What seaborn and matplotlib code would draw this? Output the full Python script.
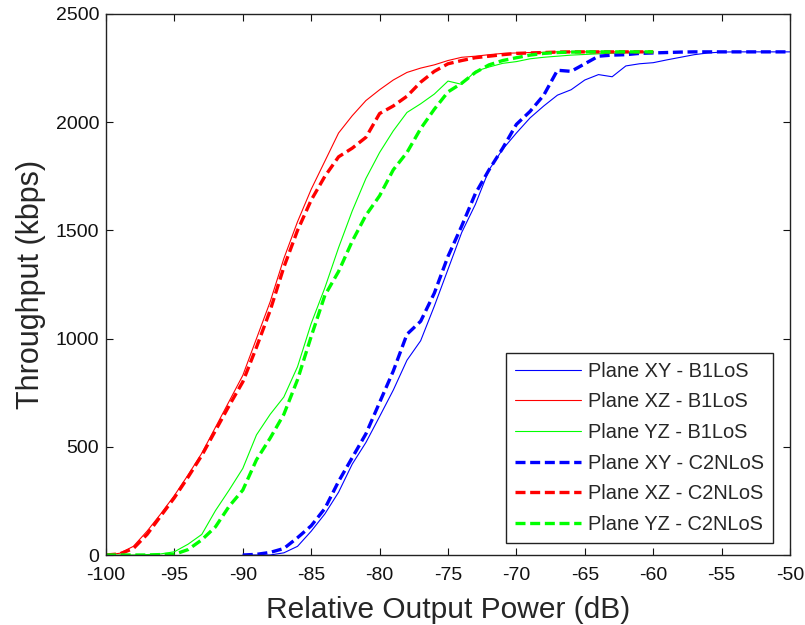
import numpy as np
import pandas as pd
import matplotlib
matplotlib.use("Agg")
import matplotlib.pyplot as plt
import seaborn as sns

# ---- data ----
x_rg = list(range(-100, -59))          # -100 .. -60 dB
x_b = list(range(-90, -49))            # -90 .. -50 dB

xz_b1 = [0, 8, 40, 110, 190, 275, 370, 470, 590, 710, 830, 1000, 1170, 1370, 1540,
         1690, 1820, 1950, 2030, 2100, 2150, 2195, 2230, 2250, 2265, 2285, 2300, 2305,
         2312, 2318, 2320, 2322, 2323, 2325, 2325, 2325, 2325, 2325, 2325, 2325, 2325]
xz_c2 = [0, 5, 30, 95, 180, 265, 360, 460, 575, 690, 800, 960, 1130, 1330, 1500,
         1640, 1750, 1840, 1880, 1930, 2040, 2075, 2120, 2185, 2235, 2270, 2285, 2298,
         2305, 2312, 2318, 2320, 2322, 2324, 2325, 2325, 2325, 2325, 2325, 2325, 2325]
yz_b1 = [0, 0, 0, 2, 5, 15, 50, 95, 205, 300, 400, 555, 650, 730, 870,
         1070, 1235, 1420, 1590, 1740, 1860, 1960, 2045, 2085, 2130, 2190, 2175, 2235,
         2255, 2272, 2280, 2293, 2300, 2305, 2310, 2313, 2316, 2319, 2321, 2323, 2325]
yz_c2 = [0, 0, 0, 0, 2, 3, 25, 70, 130, 225, 300, 440, 540, 650, 810,
         1010, 1200, 1310, 1450, 1570, 1660, 1780, 1860, 1970, 2060, 2140, 2180, 2230,
         2265, 2285, 2298, 2310, 2318, 2322, 2324, 2325, 2325, 2325, 2325, 2325, 2325]
xy_b1 = [0, 0, 0, 10, 40, 110, 190, 290, 420, 520, 640, 762, 900, 990, 1150,
         1320, 1490, 1620, 1780, 1875, 1950, 2020, 2075, 2125, 2150, 2195, 2220, 2210,
         2260, 2270, 2275, 2288, 2300, 2312, 2320, 2324, 2325, 2325, 2325, 2325, 2325]
xy_c2 = [0, 3, 12, 30, 80, 135, 215, 340, 450, 560, 705, 850, 1020, 1080, 1210,
         1380, 1520, 1670, 1780, 1880, 1990, 2050, 2125, 2240, 2235, 2270, 2305, 2310,
         2312, 2318, 2320, 2322, 2324, 2325, 2325, 2325, 2325, 2325, 2325, 2325, 2325]

labels = ["Plane XY - B1LoS", "Plane XZ - B1LoS", "Plane YZ - B1LoS",
          "Plane XY - C2NLoS", "Plane XZ - C2NLoS", "Plane YZ - C2NLoS"]
x_ticks = list(range(-100, -49, 5))
y_ticks = list(range(0, 2501, 500))

series = [
    (x_b, xy_b1, labels[0], "#0000ff", "solid"),
    (x_rg, xz_b1, labels[1], "#ff0000", "solid"),
    (x_rg, yz_b1, labels[2], "#00ff00", "solid"),
    (x_b, xy_c2, labels[3], "#0000ff", "dash"),
    (x_rg, xz_c2, labels[4], "#ff0000", "dash"),
    (x_rg, yz_c2, labels[5], "#00ff00", "dash"),
]

sns.set_style("ticks")
plt.rcParams["font.family"] = ["Liberation Sans", "DejaVu Sans"]

fig = plt.figure(figsize=(8.05, 6.25), dpi=100)
ax = fig.add_axes([106 / 805, 70 / 625, 684 / 805, 541 / 625])

for xs, ys, lab, col, sty in series:
    df = pd.DataFrame({"x": xs, "y": ys})
    if sty == "solid":
        sns.lineplot(data=df, x="x", y="y", ax=ax, color=col, linewidth=0.8,
                     label=lab, linestyle="-")
    else:
        sns.lineplot(data=df, x="x", y="y", ax=ax, color=col, linewidth=2.4,
                     label=lab, linestyle=(0, (3, 1.4)))

ax.set_xlim(-100, -50)
ax.set_ylim(0, 2500)
ax.set_xticks(x_ticks)
ax.set_yticks(y_ticks)
ax.set_xticklabels([str(v) for v in x_ticks])
ax.set_yticklabels([str(v) for v in y_ticks])
ax.tick_params(direction="in", top=True, right=True, length=5, width=0.8,
               labelsize=14, colors="#111111")
ax.tick_params(axis="x", pad=9)
ax.tick_params(axis="y", pad=5)
for sp in ax.spines.values():
    sp.set_color("#222222")
    sp.set_linewidth(1.0)

ax.set_xlabel("Relative Output Power (dB)", fontsize=21.5, labelpad=8)
ax.set_ylabel("Throughput (kbps)", fontsize=22, labelpad=7)

leg = ax.legend(loc="lower right", bbox_to_anchor=(0.975, 0.022), fontsize=14.4,
                frameon=True, fancybox=False, handlelength=3.3, handletextpad=0.35,
                labelspacing=0.585, borderpad=0.45, borderaxespad=0)
leg.get_frame().set_edgecolor("#222222")
leg.get_frame().set_linewidth(1.0)
leg.get_frame().set_alpha(1)

fig.savefig("out.png", dpi=100, facecolor="white")
